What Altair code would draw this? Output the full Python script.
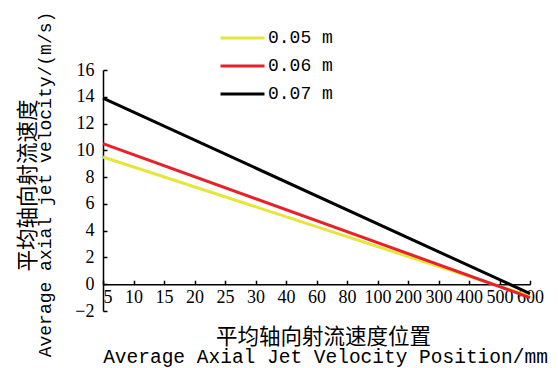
import altair as alt
import pandas as pd

positions = ["5", "10", "15", "20", "25", "30", "40", "60", "80",
             "100", "200", "300", "400", "500", "600"]
series = ["0.05 m", "0.06 m", "0.07 m"]
colors = ["#E5E53A", "#E8202A", "#000000"]
start_values = [9.5, 10.5, 13.9]
end_values = [-0.9, -1.0, -0.7]
y_ticks = [-2, 0, 2, 4, 6, 8, 10, 12, 14, 16]
y_min, y_max = -2, 16

W, H = 427, 241

rows = []
for s, a, b in zip(series, start_values, end_values):
    rows.append({"series": s, "pos": positions[0], "v": a})
    rows.append({"series": s, "pos": positions[-1], "v": b})
df = pd.DataFrame(rows)

zero_from_top = H * (y_max - 0) / (y_max - y_min)

x_scale = alt.Scale(type="point", domain=positions, padding=0)
y_scale = alt.Scale(domain=[y_min, y_max], nice=False, zero=False)
color_scale = alt.Scale(domain=series, range=colors)

serif = "Liberation Serif"
mono = "Liberation Mono"
cjk = "Noto Sans CJK SC"

base = alt.Chart(df)

lines = base.mark_line(strokeWidth=3).encode(
    x=alt.X("pos:O", scale=x_scale, sort=positions,
            axis=alt.Axis(orient="bottom", offset=-(H - zero_from_top),
                          ticks=False, tickSize=0, domain=True,
                          domainColor="black", domainWidth=1.5,
                          labelFont=serif, labelFontSize=18, labelColor="black",
                          labelPadding=4, labelAngle=0, labelOverlap=False,
                          labelAlign={"expr": "datum.label == '5' ? 'left' : 'center'"},
                          title="平均轴向射流速度位置", titleFont=cjk,
                          titleFontSize=21.5, titleFontWeight="normal",
                          titleColor="black", titleX=220, titleY=53,
                          titleBaseline="middle", titleAlign="center",
                          grid=False)),
    y=alt.Y("v:Q", scale=y_scale,
            axis=alt.Axis(orient="left", values=y_ticks, ticks=False,
                          tickSize=0, domainColor="black", domainWidth=1.5,
                          labelFont=serif, labelFontSize=18, labelColor="black",
                          labelPadding=9,
                          title="平均轴向射流速度", titleFont=cjk,
                          titleFontSize=21.5, titleFontWeight="normal",
                          titleColor="black", titleX=-75, titleY=115,
                          titleAngle=270, titleBaseline="middle",
                          titleAlign="center", grid=False)),
    color=alt.Color("series:N", scale=color_scale, sort=series,
                    legend=alt.Legend(orient="none", legendX=116, legendY=-46,
                                      title=None, symbolType="stroke",
                                      symbolSize=1936, symbolStrokeWidth=3,
                                      clipHeight=28,
                                      labelFont=mono, labelFontSize=18,
                                      labelColor="black", labelOffset=2,
                                      rowPadding=0, padding=0)),
)

tick_layer = base.mark_line(strokeOpacity=0).encode(
    x=alt.X("pos:O", scale=x_scale, sort=positions,
            axis=alt.Axis(orient="top", offset=-zero_from_top,
                          ticks=True, tickSize=4, tickWidth=1.5,
                          tickColor="black", domain=False, labels=False,
                          title="Average Axial Jet Velocity Position/mm",
                          titleFont=mono, titleFontSize=19.5,
                          titleFontWeight="normal", titleColor="black",
                          titleX=222, titleY=72, titleAngle=0,
                          titleBaseline="middle", titleAlign="center",
                          grid=False)),
    y=alt.Y("v:Q", scale=y_scale,
            axis=alt.Axis(orient="right", offset=-W, values=y_ticks,
                          ticks=True, tickSize=4, tickWidth=1.5,
                          tickColor="black", domain=False, labels=False,
                          title="Average axial jet velocity/(m/s)",
                          titleFont=mono, titleFontSize=18,
                          titleFontWeight="normal", titleColor="black",
                          titleX=-58, titleY=114, titleAngle=270,
                          titleBaseline="middle", titleAlign="center",
                          grid=False)),
    detail="series:N",
)

chart = alt.layer(lines, tick_layer).resolve_axis(
    x="independent", y="independent"
).properties(
    width=W, height=H,
    autosize=alt.AutoSizeParams(type="none"),
    padding={"left": 95, "top": 62, "right": 20, "bottom": 57},
    background="white",
).configure_view(stroke=None)

chart.save("out.html", embed_options={"renderer": "svg", "actions": False})
